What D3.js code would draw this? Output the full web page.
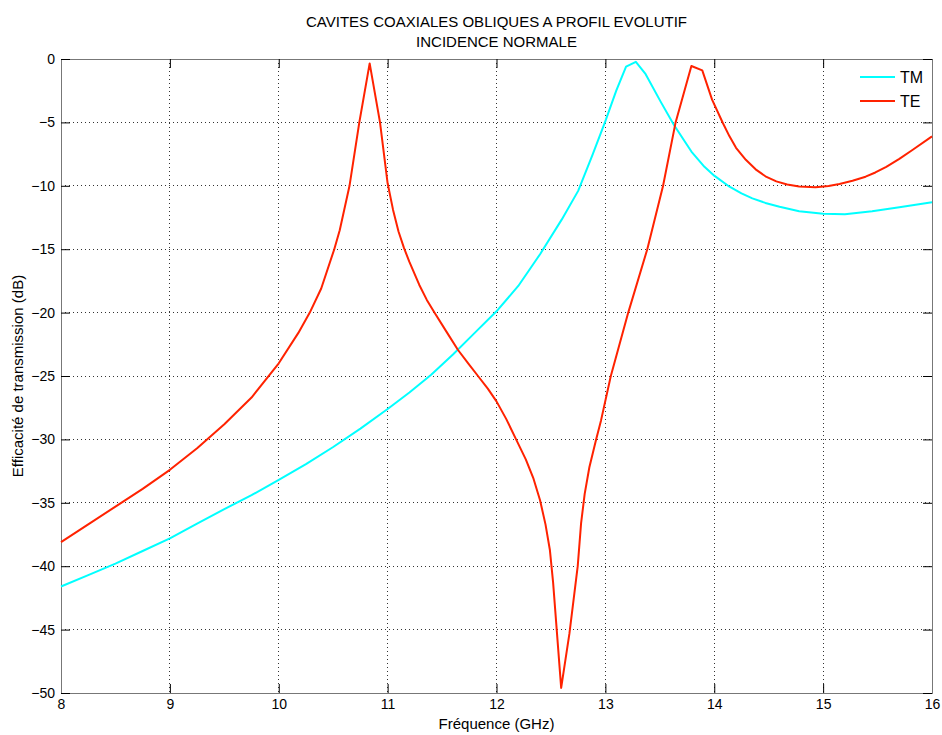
<!DOCTYPE html>
<html><head><meta charset="utf-8">
<script src="https://cdn.jsdelivr.net/npm/d3@7"></script>
<style>body{margin:0;background:#fff}svg{display:block;font-family:"Liberation Sans",Arial,sans-serif}</style>
</head><body><svg id="c" width="942" height="735"></svg>
<script>
const titleLines = ["CAVITES COAXIALES OBLIQUES A PROFIL EVOLUTIF", "INCIDENCE NORMALE"];
const xLabel = "Fréquence (GHz)";
const yLabel = "Efficacité de transmission (dB)";
const xTicks = [8, 9, 10, 11, 12, 13, 14, 15, 16];
const yTicks = [0, -5, -10, -15, -20, -25, -30, -35, -40, -45, -50];
const seriesNames = ["TM", "TE"];
const seriesColors = ["#00ffff", "#ff2200"];

const tmFreq = [8.0,8.25,8.5,8.75,9.0,9.25,9.5,9.75,10.0,10.25,10.5,10.75,11.0,11.2,11.4,11.6,11.8,12.0,12.2,12.4,12.6,12.75,12.88,13.0,13.1,13.19,13.28,13.37,13.51,13.63,13.79,13.91,14.0,14.14,14.25,14.35,14.47,14.6,14.78,15.0,15.2,15.45,15.7,16.0];
const tmVal = [-41.6,-40.7,-39.8,-38.8,-37.8,-36.65,-35.5,-34.4,-33.2,-31.95,-30.6,-29.15,-27.6,-26.3,-24.9,-23.3,-21.6,-19.9,-17.9,-15.4,-12.65,-10.4,-7.6,-4.9,-2.5,-0.6,-0.22,-1.2,-3.4,-5.2,-7.3,-8.5,-9.2,-10.07,-10.6,-10.99,-11.35,-11.65,-12.0,-12.2,-12.25,-12.0,-11.7,-11.3];

const teFreq = [8.0,8.25,8.5,8.75,9.0,9.25,9.5,9.75,10.0,10.18,10.285,10.39,10.51,10.56,10.65,10.74,10.835,10.93,11.0,11.05,11.1,11.15,11.2,11.29,11.36,11.43,11.54,11.645,11.74,11.83,11.92,12.0,12.09,12.18,12.27,12.34,12.40,12.45,12.49,12.52,12.594,12.67,12.746,12.777,12.81,12.853,12.915,12.96,13.05,13.21,13.385,13.53,13.645,13.79,13.89,13.98,14.08,14.14,14.2,14.29,14.38,14.47,14.57,14.67,14.78,14.93,15.05,15.15,15.27,15.39,15.48,15.58,15.7,15.82,16.0];
const teVal = [-38.1,-36.7,-35.3,-33.9,-32.4,-30.7,-28.8,-26.7,-24.0,-21.6,-20.0,-18.1,-15.0,-13.5,-10.0,-5.0,-0.35,-5.0,-9.8,-11.9,-13.6,-14.9,-16.0,-17.8,-19.0,-20.0,-21.5,-22.93,-24.0,-25.0,-26.0,-27.0,-28.4,-30.0,-31.6,-33.1,-34.8,-36.7,-38.7,-41.3,-49.6,-45.3,-40.0,-36.6,-34.3,-32.2,-30.0,-28.5,-25.0,-20.0,-15.0,-10.0,-5.0,-0.55,-0.9,-3.2,-5.07,-6.1,-7.0,-7.95,-8.7,-9.25,-9.65,-9.9,-10.05,-10.12,-10.02,-9.86,-9.6,-9.28,-8.95,-8.5,-7.88,-7.18,-6.1];

const L = 61, R = 932, T = 59, B = 693;
const svg = d3.select("#c");
const x = d3.scaleLinear().domain([8, 16]).range([L, R]);
const y = d3.scaleLinear().domain([-50, 0]).range([B, T]);

// grid
const g = svg.append("g");
g.selectAll(".gx").data(xTicks.slice(1, -1)).enter().append("line")
  .attr("x1", d => x(d)).attr("x2", d => x(d)).attr("y1", T).attr("y2", B)
  .attr("stroke", "#333").attr("stroke-width", 1).attr("stroke-dasharray", "1,3").attr("shape-rendering", "crispEdges");
g.selectAll(".gy").data(yTicks.slice(1, -1)).enter().append("line")
  .attr("y1", d => y(d)).attr("y2", d => y(d)).attr("x1", L).attr("x2", R)
  .attr("stroke", "#333").attr("stroke-width", 1).attr("stroke-dasharray", "1,3").attr("shape-rendering", "crispEdges");

// axes
const xAxisB = d3.axisBottom(x).tickValues(xTicks).tickSize(-9).tickPadding(6).tickFormat(d3.format("d"));
const xAxisT = d3.axisTop(x).tickValues(xTicks).tickSize(-9).tickFormat("");
const yAxisL = d3.axisLeft(y).tickValues(yTicks).tickSize(-9).tickPadding(6).tickFormat(d3.format("d"));
const yAxisR = d3.axisRight(y).tickValues(yTicks).tickSize(-9).tickFormat("");
function style(sel) {
  sel.selectAll("path").attr("stroke", "#000").attr("stroke-width", 1);
  sel.selectAll("line").attr("stroke", "#000");
  sel.selectAll("text").attr("fill", "#000").style("font-size", "14px").style("font-family", "'Liberation Sans', Arial, sans-serif");
}
svg.append("g").attr("transform", `translate(0,${B})`).call(xAxisB).call(style);
svg.append("g").attr("transform", `translate(0,${T})`).call(xAxisT).call(style);
svg.append("g").attr("transform", `translate(${L},0)`).call(yAxisL).call(style);
svg.append("g").attr("transform", `translate(${R},0)`).call(yAxisR).call(style);
svg.selectAll(".domain").attr("stroke", "#777");

// lines
const line = d3.line().x(d => x(d[0])).y(d => y(d[1]));
const series = [d3.zip(tmFreq, tmVal), d3.zip(teFreq, teVal)];
series.forEach((s, i) => {
  svg.append("path").datum(s).attr("d", line).attr("fill", "none")
    .attr("stroke", seriesColors[i]).attr("stroke-width", 2).attr("stroke-linejoin", "round");
});

// titles
svg.append("g").selectAll("text").data(titleLines).enter().append("text")
  .attr("x", (L + R) / 2).attr("y", (d, i) => 27 + i * 20).attr("text-anchor", "middle")
  .style("font-size", "15px").attr("fill", "#000").text(d => d);
svg.append("text").attr("x", (L + R) / 2).attr("y", 729).attr("text-anchor", "middle")
  .style("font-size", "15px").attr("fill", "#000").text(xLabel);
svg.append("text").attr("transform", `translate(23,${(T + B) / 2}) rotate(-90)`).attr("text-anchor", "middle")
  .style("font-size", "15px").attr("fill", "#000").text(yLabel);

// legend
const lg = svg.append("g");
seriesNames.forEach((n, i) => {
  const yy = 77 + i * 24;
  lg.append("line").attr("x1", 860).attr("x2", 895).attr("y1", yy).attr("y2", yy)
    .attr("stroke", seriesColors[i]).attr("stroke-width", 2);
  lg.append("text").attr("x", 900).attr("y", yy + 6).style("font-size", "16px").attr("fill", "#000").text(n);
});
</script></body></html>
